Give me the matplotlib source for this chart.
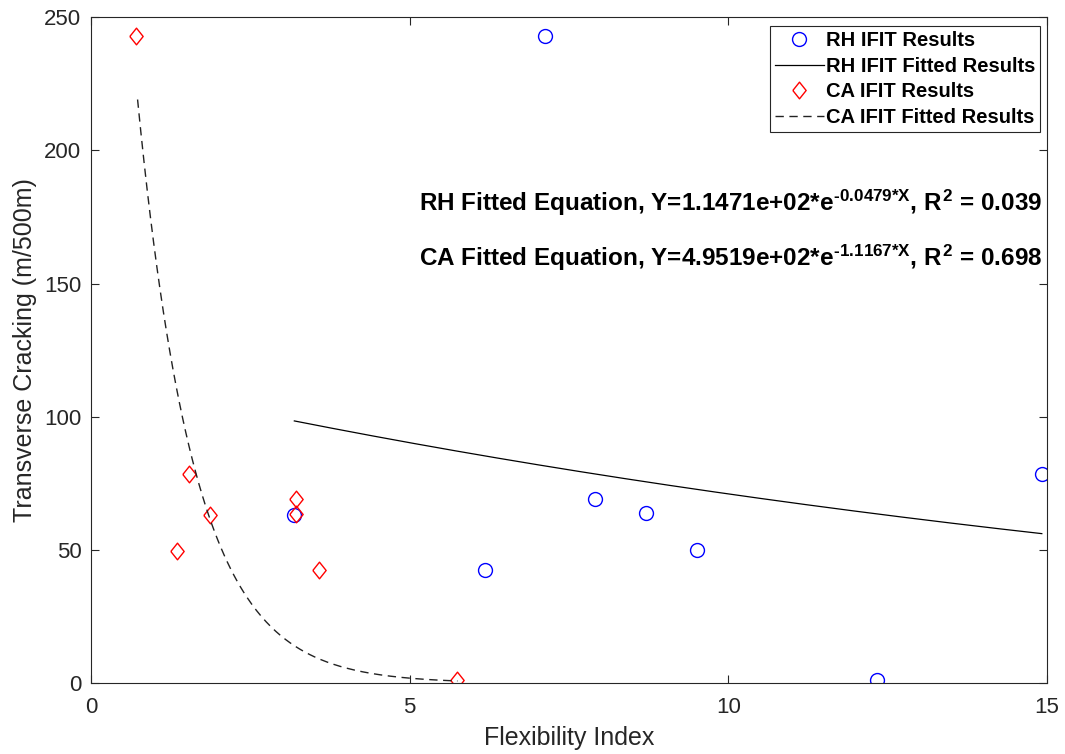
import numpy as np
import matplotlib
matplotlib.use("Agg")
import matplotlib.pyplot as plt

# values
rh_fi = [7.12, 3.19, 6.18, 7.91, 8.71, 9.51, 12.33, 14.92]
rh_crack = [243, 63, 42.5, 69, 64, 50, 1, 78.5]

ca_fi = [0.71, 1.35, 1.53, 1.87, 3.22, 3.22, 3.57, 5.75]
ca_crack = [243, 49.6, 78.5, 63, 69, 63.5, 42.5, 1]

# fitted equation coefficients (Y = a*exp(b*X)) as printed on the chart
rh_a, rh_b, rh_r2 = 1.1471e+02, -0.0479, 0.039
ca_a, ca_b, ca_r2 = 4.9519e+02, -1.1167, 0.698

plt.rcParams['font.family'] = ['Liberation Sans', 'DejaVu Sans']
plt.rcParams['mathtext.fontset'] = 'custom'
plt.rcParams['mathtext.rm'] = 'Liberation Sans:bold'
plt.rcParams['mathtext.it'] = 'Liberation Sans:bold'
plt.rcParams['mathtext.bf'] = 'Liberation Sans:bold'

fig = plt.figure(figsize=(10.65, 7.54), dpi=100)
ax = fig.add_axes([0.0855, 0.094, 0.8975, 0.883])

gray = '#262626'
# MATLAB-like diamond, wider than matplotlib's thin one
diamond = [(-0.4, 0), (0, 0.5), (0.4, 0), (0, -0.5), (-0.4, 0)]

xr = np.linspace(min(rh_fi), max(rh_fi), 200)
xc = np.linspace(min(ca_fi) + 0.02, max(ca_fi), 200)

ax.plot(rh_fi, rh_crack, 'o', mfc='none', mec='blue', ms=10, mew=1.0,
        label='RH IFIT Results')
ax.plot(xr, rh_a * np.exp(rh_b * xr), '-', color='black', lw=0.9,
        label='RH IFIT Fitted Results')
ax.plot(ca_fi, ca_crack, ls='none', marker=diamond, mfc='none', mec='red',
        ms=12, mew=1.0, label='CA IFIT Results')
ax.plot(xc, ca_a * np.exp(ca_b * xc), '--', color='#222222', lw=1.0,
        dashes=(6, 4), label='CA IFIT Fitted Results')

ax.set_xlim(0, 15)
ax.set_ylim(0, 250)
ax.set_xticks([0, 5, 10, 15])
ax.set_yticks([0, 50, 100, 150, 200, 250])
ax.tick_params(direction='in', top=True, right=True, length=6, width=0.8,
               colors=gray, labelsize=16)
ax.tick_params(axis='x', pad=10)
ax.tick_params(axis='y', pad=7)
for s in ax.spines.values():
    s.set_color(gray)
    s.set_linewidth(0.8)

ax.set_xlabel('Flexibility Index', fontsize=18, color=gray, labelpad=6)
ax.set_ylabel('Transverse Cracking (m/500m)', fontsize=18, color=gray, labelpad=5)

leg = ax.legend(loc='upper right', bbox_to_anchor=(0.997, 0.993),
                prop={'weight': 'bold', 'size': 14.5}, frameon=True,
                fancybox=False, edgecolor=gray, framealpha=1,
                borderpad=0.25, labelspacing=0.33, handlelength=2.4,
                handletextpad=0.1, borderaxespad=0.2)
leg.get_frame().set_linewidth(0.8)

ax.text(14.92, 180.5,
        r'RH Fitted Equation, Y=1.1471e+02*$e^{\text{-0.0479*X}}$, $R^{2}$ = %.3f' % rh_r2,
        ha='right', va='center', fontsize=17.5, fontweight='bold')
ax.text(14.92, 159.5,
        r'CA Fitted Equation, Y=4.9519e+02*$e^{\text{-1.1167*X}}$, $R^{2}$ = %.3f' % ca_r2,
        ha='right', va='center', fontsize=17.5, fontweight='bold')

fig.savefig('out.png', dpi=100)
